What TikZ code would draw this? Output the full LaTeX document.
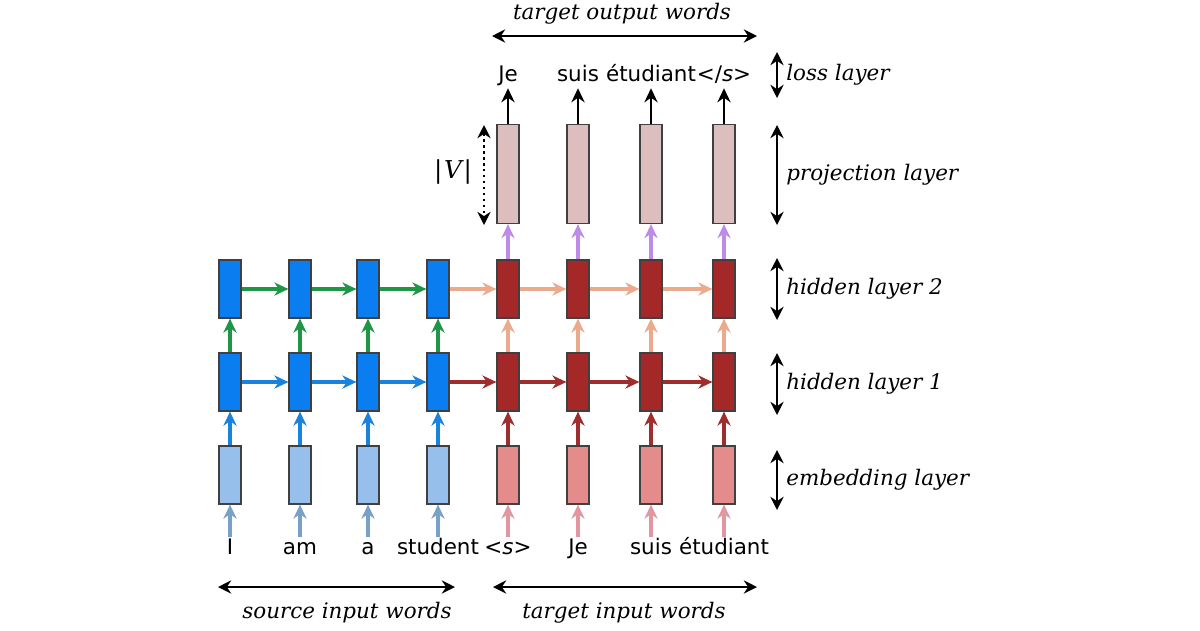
\documentclass[tikz,border=0pt]{standalone}
\usepackage{fontspec}
\setmainfont{DejaVu Sans}
\newfontfamily\seriflabel{DejaVu Serif}
\usetikzlibrary{arrows.meta, positioning, calc}
\definecolor{srcblue}{RGB}{10,125,240}
\definecolor{srcemb}{RGB}{150,192,235}
\definecolor{tgtred}{RGB}{165,40,40}
\definecolor{tgtemb}{RGB}{228,140,140}
\definecolor{projpink}{RGB}{220,190,190}
\definecolor{arrgreen}{RGB}{30,150,70}
\definecolor{arrblue}{RGB}{25,130,220}
\definecolor{arrred}{RGB}{160,45,45}
\definecolor{arrpeach}{RGB}{235,170,140}
\definecolor{arrpurple}{RGB}{190,140,230}
\definecolor{insteel}{RGB}{120,160,200}
\definecolor{inpink}{RGB}{225,150,160}
\newcommand{\sostok}{\textless\textit{s}\textgreater}
\newcommand{\eostok}{\textless/\textit{s}\textgreater}

\begin{document}
\begin{tikzpicture}[
  x=0.02cm, y=-0.02cm,
  cell/.style={draw=black!75, line width=0.7pt, minimum width=0.44cm, minimum height=1.16cm, inner sep=0pt},
  projcell/.style={cell, minimum height=1.98cm, fill=projpink},
  word/.style={font=\fontsize{12.2}{14}\selectfont, text height=9pt, text depth=2.5pt, inner sep=1pt},
  layerlabel/.style={font=\seriflabel\itshape\fontsize{12.2}{14}\selectfont, anchor=west, inner sep=0pt},
  flow/.style={-{Stealth[length=8pt,width=7.5pt]}, line width=1.9pt},
  span/.style={{Stealth[length=7.5pt,width=7.5pt]}-{Stealth[length=7.5pt,width=7.5pt]}, line width=1.4pt}
]
  \useasboundingbox (0,0) rectangle (1200,630);

  % Encoder (source side)
  \foreach \x/\w [count=\i] in {230/I, 300/am, 368/a, 438/student} {
    \node[cell, fill=srcemb] (emb-s\i) at (\x,475) {};
    \node[cell, fill=srcblue] (hid1-s\i) at (\x,382) {};
    \node[cell, fill=srcblue] (hid2-s\i) at (\x,289) {};
    \node[word] (in-s\i) at (\x,549) {\w};
    \draw[flow, insteel] (in-s\i) -- (emb-s\i);
    \draw[flow, arrblue] (emb-s\i) -- (hid1-s\i);
    \draw[flow, arrgreen] (hid1-s\i) -- (hid2-s\i);
  }

  % Decoder (target side)
  \foreach \x/\w/\o [count=\i] in {508/\sostok/Je, 578/Je/suis, 651/suis/étudiant, 724/étudiant/\eostok} {
    \node[cell, fill=tgtemb] (emb-t\i) at (\x,475) {};
    \node[cell, fill=tgtred] (hid1-t\i) at (\x,382) {};
    \node[cell, fill=tgtred] (hid2-t\i) at (\x,289) {};
    \node[projcell] (proj-t\i) at (\x,174) {};
    \node[word] (in-t\i) at (\x,549) {\w};
    \node[word] (out-t\i) at (\x,76) {\o};
    \draw[flow, inpink] (in-t\i) -- (emb-t\i);
    \draw[flow, arrred] (emb-t\i) -- (hid1-t\i);
    \draw[flow, arrpeach] (hid1-t\i) -- (hid2-t\i);
    \draw[flow, arrpurple] (hid2-t\i) -- (proj-t\i);
    \draw[flow, black, line width=1.6pt] (proj-t\i) -- (out-t\i);
  }

  % Recurrent connections
  \foreach \i in {1,2,3} {
    \pgfmathtruncatemacro{\j}{\i+1}
    \draw[flow, arrblue] (hid1-s\i) -- (hid1-s\j);
    \draw[flow, arrgreen] (hid2-s\i) -- (hid2-s\j);
    \draw[flow, arrred] (hid1-t\i) -- (hid1-t\j);
    \draw[flow, arrpeach] (hid2-t\i) -- (hid2-t\j);
  }
  \draw[flow, arrred] (hid1-s4) -- (hid1-t1);
  \draw[flow, arrpeach] (hid2-s4) -- (hid2-t1);

  % Layer brackets on the right
  \foreach \name/\top/\bot/\txt in {loss/52/98/loss layer, proj/125/225/projection layer, hidtwo/258/320/hidden layer 2, hidone/353/415/hidden layer 1, emb/450/510/embedding layer} {
    \coordinate (\name-top) at (777,\top);
    \coordinate (\name-bot) at (777,\bot);
    \draw[span] (\name-top) -- (\name-bot);
    \node[layerlabel] (\name-label) at (786,{(\top+\bot)/2}) {\txt};
  }

  % Vocabulary size
  \coordinate (vocab-top) at (484,125);
  \coordinate (vocab-bot) at (484,225);
  \draw[span, dotted, line width=1.2pt] (vocab-top) -- (vocab-bot);
  \node[inner sep=0pt, font=\seriflabel\fontsize{14}{16}\selectfont] (vocab-label) at (453,172) {|\kern1pt{\itshape V}\kern1pt|};

  % Word spans
  \coordinate (out-left) at (492,36);
  \coordinate (out-right) at (757,36);
  \draw[span] (out-left) -- (out-right);
  \node[layerlabel, anchor=center] (out-label) at (622,14) {target output words};

  \coordinate (src-left) at (218,587);
  \coordinate (src-right) at (455,587);
  \draw[span] (src-left) -- (src-right);
  \node[layerlabel, anchor=center] (src-label) at (347,613) {source input words};

  \coordinate (tgt-left) at (493,587);
  \coordinate (tgt-right) at (757,587);
  \draw[span] (tgt-left) -- (tgt-right);
  \node[layerlabel, anchor=center] (tgt-label) at (624,613) {target input words};
\end{tikzpicture}
\end{document}
